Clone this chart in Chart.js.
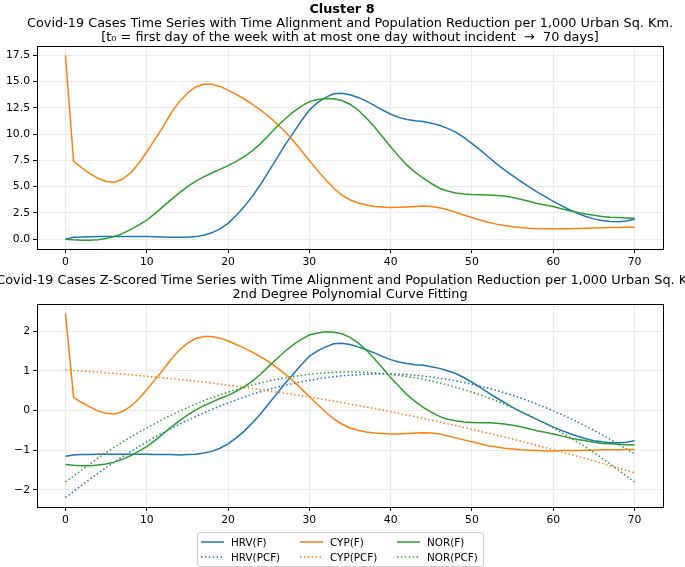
<!DOCTYPE html>
<html>
<head>
<meta charset="utf-8">
<script src="https://cdn.jsdelivr.net/npm/chart.js@4.4.0/dist/chart.umd.min.js"></script>
<style>
    body { margin: 0; width: 685px; height: 567px; overflow: hidden; background: #fff; position: relative; font-family: 'DejaVu Sans', sans-serif; }
    canvas { position: absolute; left: 0; }
    .ttl { position: absolute; white-space: nowrap; font-size: 12.85px; color: #000; transform: translate(-50%, -50%); }
    #legend { position: absolute; left: 197px; top: 532px; width: 285px; height: 33px; border: 1px solid #d0d0d0; border-radius: 3px; background: rgba(255,255,255,0.8); font-size: 10.4px; }
    .sw { position: absolute; width: 23px; height: 4px; }
    .lt { position: absolute; transform: translateY(-50%); }
</style>
</head>
<body>
<canvas id="top-chart" width="685" height="270" style="top:0"></canvas>
<canvas id="bottom-chart" width="685" height="270" style="top:260px"></canvas>

<div class="ttl" style="left:342px; top:8px; font-weight:bold;">Cluster 8</div>
<div class="ttl" style="left:350px; top:22px;">Covid-19 Cases Time Series with Time Alignment and Population Reduction per 1,000 Urban Sq. Km.</div>
<div class="ttl" style="left:350px; top:36px;">[t₀ = first day of the week with at most one day without incident &nbsp;→ &nbsp;70 days]</div>
<div class="ttl" style="left:350px; top:279px;">Covid-19 Cases Z-Scored Time Series with Time Alignment and Population Reduction per 1,000 Urban Sq. Km.</div>
<div class="ttl" style="left:350px; top:293px;">2nd Degree Polynomial Curve Fitting</div>

<div id="legend"></div>

<script>
// days since t0, and the fit sample days
const days = Array.from({ length: 71 }, (_, i) => i);
const fitDays = [0, 5, 10, 15, 20, 25, 30, 35, 40, 45, 50, 55, 60, 65, 70];

const xTicks = [0, 10, 20, 30, 40, 50, 60, 70];
const topTicks = [0, 2.5, 5, 7.5, 10, 12.5, 15, 17.5];
const bottomTicks = [-2, -1, 0, 1, 2];

// cases per 1,000 urban sq. km (top panel)
const hrvF = [0.0, 0.17, 0.2, 0.22, 0.24, 0.25, 0.26, 0.26, 0.26, 0.25, 0.24,
    0.22, 0.2, 0.18, 0.17, 0.18, 0.24, 0.38, 0.6, 0.98, 1.5,
    2.25, 3.1, 4.1, 5.2, 6.45, 7.7, 8.95, 10.1, 11.25, 12.3,
    13.0, 13.5, 13.85, 13.9, 13.75, 13.5, 13.15, 12.75, 12.3, 11.9,
    11.6, 11.4, 11.28, 11.2, 11.05, 10.85, 10.55, 10.2, 9.7, 9.1,
    8.5, 7.85, 7.2, 6.6, 6.05, 5.5, 5.0, 4.5, 4.05, 3.6,
    3.2, 2.8, 2.45, 2.15, 1.93, 1.77, 1.68, 1.66, 1.73, 1.9];
const cypF = [17.5, 7.4, 6.8, 6.25, 5.8, 5.5, 5.42, 5.7, 6.3, 7.2, 8.3,
    9.5, 10.7, 12.0, 13.1, 13.9, 14.5, 14.75, 14.75, 14.55, 14.2,
    13.8, 13.35, 12.85, 12.3, 11.7, 11.0, 10.25, 9.4, 8.45, 7.5,
    6.55, 5.65, 4.85, 4.2, 3.75, 3.45, 3.25, 3.12, 3.05, 3.02,
    3.03, 3.07, 3.12, 3.15, 3.12, 3.0, 2.8, 2.55, 2.3, 2.06,
    1.82, 1.6, 1.43, 1.3, 1.19, 1.1, 1.04, 1.0, 0.98, 0.98,
    0.99, 1.0, 1.02, 1.04, 1.06, 1.08, 1.1, 1.12, 1.13, 1.14];
const norF = [0.0, -0.07, -0.1, -0.1, -0.05, 0.05, 0.25, 0.52, 0.9, 1.33, 1.8,
    2.43, 3.1, 3.77, 4.4, 5.0, 5.5, 5.93, 6.3, 6.65, 7.0,
    7.4, 7.85, 8.43, 9.1, 9.9, 10.7, 11.45, 12.1, 12.65, 13.1,
    13.3, 13.4, 13.38, 13.2, 12.85, 12.3, 11.55, 10.7, 9.75, 8.8,
    7.9, 7.05, 6.38, 5.8, 5.3, 4.85, 4.58, 4.4, 4.3, 4.25,
    4.22, 4.2, 4.16, 4.1, 3.97, 3.8, 3.6, 3.4, 3.25, 3.1,
    2.9, 2.7, 2.55, 2.4, 2.27, 2.15, 2.09, 2.05, 2.02, 2.0];

// z-scored series (bottom panel)
const hrvZ = [-1.15, -1.12, -1.11, -1.11, -1.1, -1.1, -1.1, -1.1, -1.1, -1.1, -1.1,
    -1.11, -1.11, -1.11, -1.12, -1.11, -1.1, -1.07, -1.03, -0.95, -0.84,
    -0.69, -0.52, -0.31, -0.09, 0.17, 0.42, 0.68, 0.91, 1.15, 1.36,
    1.5, 1.6, 1.68, 1.69, 1.66, 1.6, 1.53, 1.45, 1.36, 1.28,
    1.22, 1.18, 1.15, 1.14, 1.1, 1.06, 1.0, 0.93, 0.83, 0.71,
    0.58, 0.45, 0.32, 0.2, 0.08, -0.03, -0.13, -0.23, -0.32, -0.42,
    -0.5, -0.58, -0.65, -0.71, -0.76, -0.79, -0.81, -0.81, -0.8, -0.76];
const cypZ = [2.44, 0.33, 0.2, 0.09, -0.01, -0.07, -0.09, -0.03, 0.1, 0.29, 0.52,
    0.77, 1.02, 1.29, 1.52, 1.69, 1.81, 1.86, 1.86, 1.82, 1.75,
    1.66, 1.57, 1.47, 1.35, 1.23, 1.08, 0.92, 0.75, 0.55, 0.35,
    0.15, -0.04, -0.21, -0.34, -0.44, -0.5, -0.54, -0.57, -0.58, -0.59,
    -0.59, -0.58, -0.57, -0.56, -0.57, -0.59, -0.64, -0.69, -0.74, -0.79,
    -0.84, -0.89, -0.92, -0.95, -0.97, -0.99, -1.0, -1.01, -1.02, -1.02,
    -1.01, -1.01, -1.01, -1.0, -1.0, -0.99, -0.99, -0.99, -0.98, -0.98];
const norZ = [-1.36, -1.38, -1.39, -1.39, -1.37, -1.35, -1.3, -1.23, -1.14, -1.03, -0.91,
    -0.76, -0.59, -0.42, -0.26, -0.12, 0.01, 0.12, 0.21, 0.3, 0.38,
    0.48, 0.6, 0.74, 0.91, 1.11, 1.3, 1.49, 1.65, 1.79, 1.9,
    1.95, 1.98, 1.97, 1.93, 1.84, 1.7, 1.52, 1.3, 1.07, 0.83,
    0.61, 0.4, 0.23, 0.08, -0.04, -0.15, -0.22, -0.26, -0.29, -0.3,
    -0.31, -0.31, -0.32, -0.34, -0.37, -0.41, -0.46, -0.51, -0.55, -0.59,
    -0.64, -0.69, -0.73, -0.76, -0.8, -0.83, -0.84, -0.85, -0.86, -0.86];

// 2nd degree polynomial fits
const hrvPCF = [-2.19, -1.44, -0.79, -0.25, 0.19, 0.53, 0.76, 0.89, 0.92, 0.84, 0.66, 0.38, -0.01, -0.5, -1.09];
const cypPCF = [1.02, 0.95, 0.86, 0.76, 0.635, 0.49, 0.34, 0.16, -0.03, -0.245, -0.475, -0.72, -0.99, -1.27, -1.57];
const norPCF = [-1.8, -1.06, -0.44, 0.07, 0.46, 0.74, 0.91, 0.97, 0.91, 0.74, 0.46, 0.07, -0.44, -1.06, -1.8];

const BLUE = '#1f77b4';
const ORANGE = '#ff7f0e';
const GREEN = '#2ca02c';
const FONT = { family: 'DejaVu Sans', size: 10.8 };
const LW = 1.5;
const DOTS = [1.5, 2.4];

function pts(xs, ys) {
    return xs.map((x, i) => ({ x: x, y: ys[i] }));
}

function solid(label, xs, ys, color, order) {
    return { label, data: pts(xs, ys), borderColor: color, borderWidth: LW, pointRadius: 0, tension: 0, order };
}

function dotted(label, xs, ys, color, order) {
    return { label, data: pts(xs, ys), borderColor: color, borderWidth: LW, borderDash: DOTS, pointRadius: 0, cubicInterpolationMode: 'monotone', order };
}

// black frame round the plot area
const framePlugin = {
    id: 'frame',
    afterDraw(chart) {
        const a = chart.chartArea;
        const ctx = chart.ctx;
        ctx.save();
        ctx.strokeStyle = '#000';
        ctx.lineWidth = 1;
        ctx.strokeRect(Math.round(a.left) + 0.5, Math.round(a.top) + 0.5, Math.round(a.right - a.left), Math.round(a.bottom - a.top));
        ctx.restore();
    }
};

function makeOptions(yMin, yMax, yTicks, yFmt, padTop, padBottom) {
    return {
        responsive: false,
        animation: false,
        layout: { padding: { top: padTop, right: 22, left: 0, bottom: padBottom } },
        plugins: { legend: { display: false }, tooltip: { enabled: false } },
        scales: {
            x: {
                type: 'linear',
                min: -3.5,
                max: 73.5,
                afterBuildTicks: s => { s.ticks = xTicks.map(v => ({ value: v })); },
                afterFit: s => { s.height = 21; },
                border: { display: false },
                grid: { color: '#ebebeb', tickColor: '#000', tickLength: 4, lineWidth: 1 },
                ticks: { color: '#000', font: FONT, padding: 3, maxRotation: 0 }
            },
            y: {
                min: yMin,
                max: yMax,
                afterBuildTicks: s => { s.ticks = yTicks.map(v => ({ value: v })); },
                afterFit: s => { s.width = 37; },
                border: { display: false },
                grid: { color: '#ebebeb', tickColor: '#000', tickLength: 4, lineWidth: 1 },
                ticks: { color: '#000', font: FONT, padding: 3, callback: yFmt }
            }
        }
    };
}

// eslint-disable-next-line no-undef, no-unused-vars
const topChart = new Chart(document.getElementById('top-chart'), {
    type: 'line',
    data: {
        datasets: [
            solid('HRV(F)', days, hrvF, BLUE, 3),
            solid('CYP(F)', days, cypF, ORANGE, 2),
            solid('NOR(F)', days, norF, GREEN, 1)
        ]
    },
    options: makeOptions(-0.94, 18.4, topTicks, v => v.toFixed(1), 46, 0),
    plugins: [framePlugin]
});

// eslint-disable-next-line no-undef, no-unused-vars
const bottomChart = new Chart(document.getElementById('bottom-chart'), {
    type: 'line',
    data: {
        datasets: [
            solid('HRV(F)', days, hrvZ, BLUE, 6),
            dotted('HRV(PCF)', fitDays, hrvPCF, BLUE, 5),
            solid('CYP(F)', days, cypZ, ORANGE, 4),
            dotted('CYP(PCF)', fitDays, cypPCF, ORANGE, 3),
            solid('NOR(F)', days, norZ, GREEN, 2),
            dotted('NOR(PCF)', fitDays, norPCF, GREEN, 1)
        ]
    },
    options: makeOptions(-2.43, 2.68, bottomTicks, v => String(v).replace('-', '\u2212'), 44, 2),
    plugins: [framePlugin]
});

// legend, three columns like the original
const legend = document.getElementById('legend');
const cols = [{ x: 3, c: BLUE, n: 'HRV' }, { x: 102, c: ORANGE, n: 'CYP' }, { x: 199, c: GREEN, n: 'NOR' }];
const rows = [{ y: 9, dash: '', t: '(F)' }, { y: 24, dash: DOTS.join(' '), t: '(PCF)' }];
for (const col of cols) {
    for (const row of rows) {
        const sw = document.createElementNS('http://www.w3.org/2000/svg', 'svg');
        sw.setAttribute('class', 'sw');
        sw.setAttribute('width', '23');
        sw.setAttribute('height', '4');
        sw.style.left = col.x + 'px';
        sw.style.top = (row.y - 2) + 'px';
        const ln = document.createElementNS('http://www.w3.org/2000/svg', 'line');
        ln.setAttribute('x1', '0');
        ln.setAttribute('x2', '23');
        ln.setAttribute('y1', '2');
        ln.setAttribute('y2', '2');
        ln.setAttribute('stroke', col.c);
        ln.setAttribute('stroke-width', LW);
        if (row.dash) ln.setAttribute('stroke-dasharray', row.dash);
        sw.append(ln);
        const lt = document.createElement('div');
        lt.className = 'lt';
        lt.style.left = (col.x + 30) + 'px';
        lt.style.top = row.y + 'px';
        lt.textContent = col.n + row.t;
        legend.append(sw, lt);
    }
}
</script>
</body>
</html>
